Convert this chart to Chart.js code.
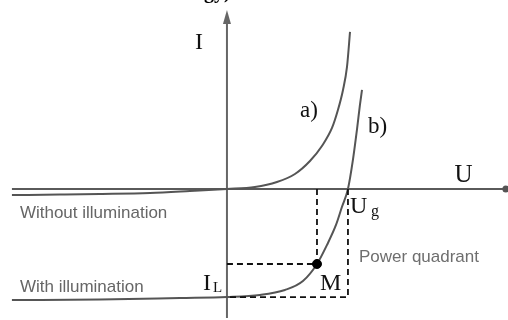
<!DOCTYPE html>
<html>
<head>
<meta charset="utf-8">
<script src="https://cdn.jsdelivr.net/npm/chart.js@4"></script>
<style>
html,body{margin:0;padding:0;background:#fff;}
#c{display:block;}
</style>
</head>
<body>
<canvas id="c" width="508" height="320"></canvas>
<script>
// ---- data (U in units of Ug, I in units of IL) ----
const curveA_U = [-1.777,-1.380,-1.050,-0.636,-0.306,0,0.231,0.413,0.562,0.686,0.785,0.868,0.917,0.959,0.992,1.017];
const curveA_I = [-0.056,-0.051,-0.046,-0.037,-0.019,0,0.019,0.065,0.139,0.259,0.398,0.565,0.731,0.917,1.130,1.454];
const curveB_U = [-1.777,-1.050,-0.388,0,0.273,0.479,0.628,0.744,0.826,0.901,0.950,1.0,1.041,1.074,1.099,1.116];
const curveB_I = [-1.028,-1.023,-1.009,-1.0,-0.981,-0.935,-0.852,-0.694,-0.519,-0.333,-0.167,0,0.269,0.546,0.778,0.917];
const pointM = {U:0.744, I:-0.694};
const Ug = 1.0;
const IL = -1.0;
const uAxisRange = [-1.777, 2.305];
const iAxisRange = [-1.194, 1.657];
const viewU = [-1.826, 2.273];
const viewI = [-1.157, 1.694];

const zip = (xs, ys) => xs.map((x,i)=>({x:x, y:ys[i]}));

const labels = [
  {t:'gy)', u:-0.19, i:1.768, font:'bold 20px "Liberation Serif"', c:'#000'},
  {t:'I', u:-0.264, i:1.296, font:'24px "Liberation Serif"', c:'#111'},
  {t:'U', u:1.88, i:0.065, font:'25px "Liberation Serif"', c:'#111'},
  {t:'a)', u:0.603, i:0.667, font:'23px "Liberation Serif"', c:'#111'},
  {t:'b)', u:1.165, i:0.519, font:'23px "Liberation Serif"', c:'#111'},
  {t:'U', u:1.017, i:-0.222, font:'24px "Liberation Serif"', c:'#111'},
  {t:'g', u:1.19, i:-0.25, font:'16px "Liberation Serif"', c:'#111'},
  {t:'I', u:-0.198, i:-0.935, font:'24px "Liberation Serif"', c:'#111'},
  {t:'L', u:-0.116, i:-0.954, font:'15px "Liberation Serif"', c:'#111'},
  {t:'M', u:0.769, i:-0.935, font:'24px "Liberation Serif"', c:'#111'},
  {t:'Power quadrant', u:1.091, i:-0.676, font:'17px "Liberation Sans"', c:'#6e6e6e'},
  {t:'Without illumination', u:-1.711, i:-0.269, font:'17px "Liberation Sans"', c:'#666'},
  {t:'With illumination', u:-1.711, i:-0.954, font:'17px "Liberation Sans"', c:'#666'}
];

const decor = {
  id:'decor',
  afterDatasetsDraw(chart){
    const ctx = chart.ctx, xs = chart.scales.x, ys = chart.scales.y;
    const tx = xs.getPixelForValue(0), ty = ys.getPixelForValue(iAxisRange[1]);
    ctx.save();
    ctx.fillStyle = '#666';
    ctx.beginPath();
    ctx.moveTo(tx, ty);
    ctx.lineTo(tx-4, ty+14);
    ctx.lineTo(tx+4, ty+14);
    ctx.closePath();
    ctx.fill();
    ctx.textBaseline = 'alphabetic';
    ctx.textAlign = 'left';
    labels.forEach(l=>{
      ctx.font = l.font;
      ctx.fillStyle = l.c;
      ctx.fillText(l.t, xs.getPixelForValue(l.u), ys.getPixelForValue(l.i));
    });
    ctx.restore();
  }
};

const dash = {borderColor:'#111', borderWidth:1.8, borderDash:[6,4], pointRadius:0, fill:false, showLine:true, clip:false};

new Chart(document.getElementById('c'), {
  type:'scatter',
  data:{datasets:[
    {data:[{x:pointM.U,y:pointM.I}], pointRadius:4.5, pointBackgroundColor:'#000', pointBorderColor:'#000', showLine:false, clip:false},
    Object.assign({data:[{x:pointM.U,y:0},{x:pointM.U,y:pointM.I}]}, dash),
    Object.assign({data:[{x:0,y:pointM.I},{x:pointM.U,y:pointM.I}]}, dash),
    Object.assign({data:[{x:Ug,y:0},{x:Ug,y:IL},{x:0,y:IL}]}, dash),
    {data:zip(curveA_U, curveA_I), borderColor:'#555', borderWidth:2, pointRadius:0, showLine:true, cubicInterpolationMode:'monotone', clip:false},
    {data:zip(curveB_U, curveB_I), borderColor:'#555', borderWidth:2, pointRadius:0, showLine:true, cubicInterpolationMode:'monotone', clip:false},
    {data:[{x:uAxisRange[0],y:0},{x:uAxisRange[1],y:0}], borderColor:'#5a5a5a', borderWidth:2, pointRadius:[0,2.5], pointBackgroundColor:'#555', pointBorderColor:'#555', showLine:true, clip:false},
    {data:[{x:0,y:iAxisRange[0]},{x:0,y:iAxisRange[1]-0.1}], borderColor:'#666', borderWidth:2, pointRadius:0, showLine:true, clip:false}
  ]},
  options:{
    responsive:false, animation:false,
    layout:{padding:0},
    plugins:{legend:{display:false}, tooltip:{enabled:false}},
    scales:{
      x:{type:'linear', display:false, min:viewU[0], max:viewU[1]},
      y:{type:'linear', display:false, min:viewI[0], max:viewI[1]}
    }
  },
  plugins:[decor]
});
</script>
</body>
</html>
